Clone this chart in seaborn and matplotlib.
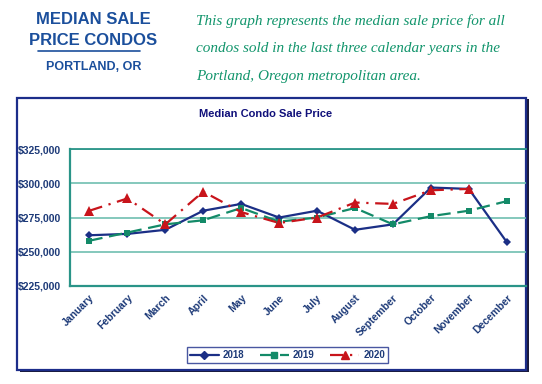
import numpy as np
import pandas as pd
import matplotlib
matplotlib.use("Agg")
import matplotlib.pyplot as plt
from matplotlib.patches import Rectangle
from matplotlib.lines import Line2D
from matplotlib.ticker import FuncFormatter, FixedLocator
import seaborn as sns

# === data ===
months = ['January', 'February', 'March', 'April', 'May', 'June', 'July',
          'August', 'September', 'October', 'November', 'December']
years = ['2018', '2019', '2020']
price_2018 = [262000, 263000, 266000, 280000, 285000, 275000, 280000,
              266000, 270000, 297000, 296000, 257000]
price_2019 = [258000, 264000, 270000, 273000, 282000, 272000, 275000,
              282000, 270000, 276000, 280000, 287000]
price_2020 = [280000, 289000, 270000, 294000, 279000, 271000, 275000,
              286000, 285000, 295000, 296000, np.nan]
yticks = [225000, 250000, 275000, 300000, 325000]

df = pd.DataFrame({
    'month': months * 3,
    'idx': list(range(12)) * 3,
    'year': [y for y in years for _ in months],
    'price': price_2018 + price_2019 + price_2020,
})

navy = '#1b2f86'
green = '#138a68'
red = '#c8141b'
teal = '#2a9488'
tick_col = '#1d3a78'

sns.set_style('white')
plt.rcParams['font.family'] = ['Liberation Sans', 'DejaVu Sans']

fig = plt.figure(figsize=(5.42, 3.84), dpi=100)

# === header ===
head_col = '#1b4f9c'
fig.text(0.172, 0.948, 'MEDIAN SALE', ha='center', va='center',
         fontsize=12, fontweight='bold', color=head_col)
fig.text(0.172, 0.895, 'PRICE CONDOS', ha='center', va='center',
         fontsize=12, fontweight='bold', color=head_col)
fig.add_artist(Line2D([0.070, 0.258], [0.867, 0.867], color=head_col,
                      lw=1.2, transform=fig.transFigure))
fig.text(0.172, 0.826, 'PORTLAND, OR', ha='center', va='center',
         fontsize=9, fontweight='bold', color=head_col)

lines = ['This graph represents the median sale price for all',
         'condos sold in the last three calendar years in the',
         'Portland, Oregon metropolitan area.']
for i, t in enumerate(lines):
    fig.text(0.362, 0.946 - i * 0.073, t, ha='left', va='center',
             fontsize=11, style='italic', color='#12956c',
             family='Liberation Serif')

# === chart box with shadow ===
fig.add_artist(Rectangle((0.036, 0.030), 0.940, 0.713, transform=fig.transFigure,
                         facecolor='#1a1a3a', edgecolor='none', zorder=0))
fig.add_artist(Rectangle((0.031, 0.037), 0.940, 0.709, transform=fig.transFigure,
                         facecolor='white', edgecolor='#1c2d8a', lw=1.6, zorder=1))

fig.text(0.49, 0.703, 'Median Condo Sale Price', ha='center', va='center',
         fontsize=8, fontweight='bold', color='#10107a')

# === plot ===
ax = fig.add_axes([0.130, 0.256, 0.840, 0.355])
ax.set_zorder(2)
ax.patch.set_alpha(0)

sns.lineplot(data=df, x='idx', y='price', hue='year', style='year',
             palette={'2018': navy, '2019': green, '2020': red},
             markers={'2018': 'D', '2019': 's', '2020': '^'},
             dashes={'2018': '', '2019': (6, 3), '2020': (6, 3, 1, 3)},
             markersize=5, linewidth=1.6, markeredgewidth=0,
             legend=False, ax=ax)

# smaller diamond markers for 2018, larger triangles for 2020
for ln in ax.get_lines():
    if ln.get_marker() == 'D':
        ln.set_markersize(4)
    if ln.get_marker() == '^':
        ln.set_markersize(7)

ax.set_xlim(-0.5, 11.5)
ax.set_ylim(225000, 325000)
ax.set_yticks(yticks)
ax.yaxis.set_major_formatter(FuncFormatter(lambda v, p: f'${v:,.0f}'))
ax.set_xticks(range(12))
ax.set_xticklabels(months, rotation=45, ha='right', rotation_mode='anchor')
ax.xaxis.set_minor_locator(FixedLocator(np.arange(-0.5, 12, 1)))
ax.tick_params(axis='x', which='major', length=0, pad=5,
               labelsize=7.5, labelcolor=tick_col)
ax.tick_params(axis='x', which='minor', length=4, color=teal, width=1, direction='out')
ax.tick_params(axis='y', length=4, color=teal, width=1, direction='out',
               labelsize=7.5, labelcolor=tick_col, pad=3)
for lab in ax.get_xticklabels() + ax.get_yticklabels():
    lab.set_fontweight('bold')

ax.grid(axis='y', color='#6fbfb0', lw=1.2)
ax.grid(axis='x', visible=False)
ax.set_xlabel('')
ax.set_ylabel('')
for s in ['right']:
    ax.spines[s].set_visible(False)
# top line at $325,000 is a darker teal than the inner gridlines
ax.spines['top'].set_color(teal)
ax.spines['top'].set_linewidth(1.3)
for s in ['left', 'bottom']:
    ax.spines[s].set_color(teal)
    ax.spines[s].set_linewidth(1.6)

# === legend ===
handles = [
    Line2D([], [], color=navy, lw=1.6, marker='D', markersize=4),
    Line2D([], [], color=green, lw=1.6, ls=(0, (6, 3)), marker='s', markersize=5),
    Line2D([], [], color=red, lw=1.6, ls=(0, (6, 3, 1, 3)), marker='^', markersize=6),
]
leg = fig.legend(handles, years, loc='center', bbox_to_anchor=(0.53, 0.075),
                 ncol=3, fontsize=7, frameon=True, fancybox=False,
                 edgecolor='#1c2d8a', handlelength=3.0, columnspacing=1.6,
                 borderpad=0.3, handletextpad=0.4)
leg.get_frame().set_linewidth(1.0)
for t in leg.get_texts():
    t.set_color(tick_col)
    t.set_fontweight('bold')
leg.set_zorder(3)

fig.savefig('out.png', dpi=100)
